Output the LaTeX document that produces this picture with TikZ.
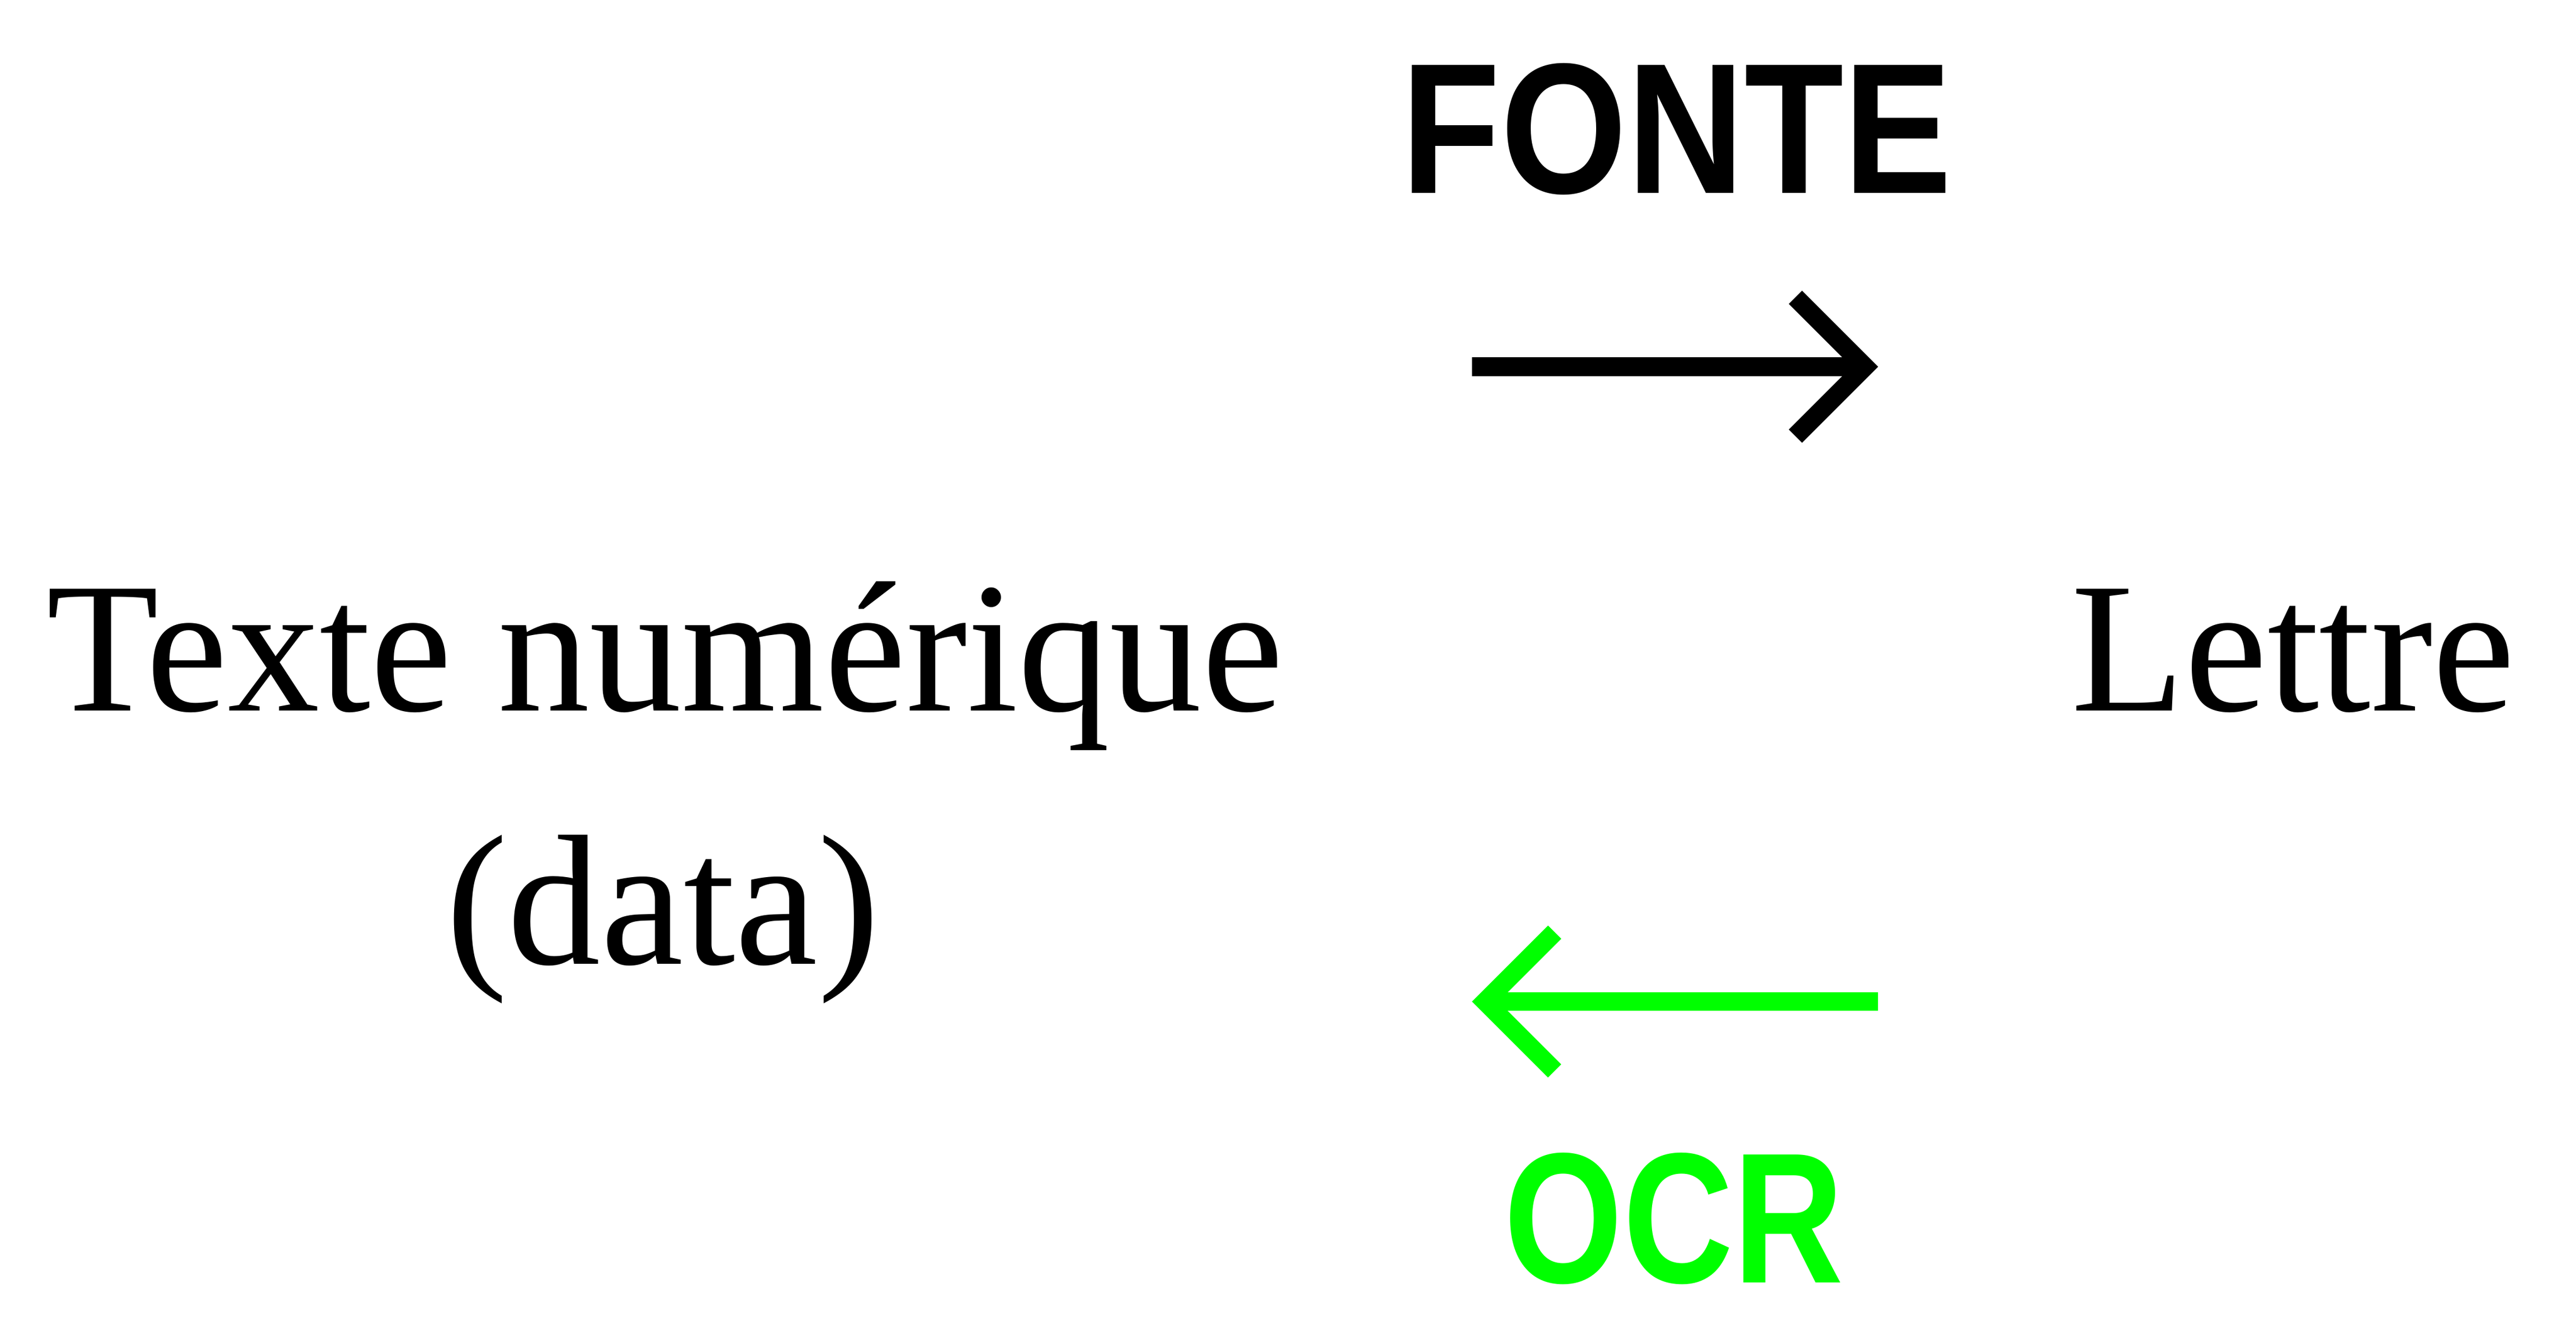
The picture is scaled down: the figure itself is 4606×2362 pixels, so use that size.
\documentclass[tikz,border=0pt]{standalone}
\usepackage{fontspec}
\setmainfont{Liberation Serif}
\newfontfamily\tagfont{Liberation Sans}
\usetikzlibrary{arrows.meta}
\definecolor{ocrgreen}{RGB}{0,255,0}

\begin{document}
\begin{tikzpicture}[x=0.01cm, y=-0.01cm,
	word/.style={inner sep=0pt, font=\fontsize{94.6pt}{113.5pt}\selectfont},
	tag/.style={inner sep=0pt, font=\fontsize{94.6pt}{113.5pt}\selectfont\tagfont\bfseries},
	way/.style={line width=9.5pt, -{Straight Barb[length=35.3pt, width=70.6pt, line cap=butt, line join=miter]}}]
\useasboundingbox (0,0) rectangle (4606,2362);
\path (83,1271) node[word, anchor=base west] (txt) {\scalebox{0.987}[1]{Texte numérique}}
		(1185,1724) node[word, anchor=base] (data) {(data)}
		(4498,1271) node[word, anchor=base east] (lettre) {Lettre}
		(2998,345) node[tag, anchor=base] (fonte) {\scalebox{0.873}[1]{FONTE}}
		(2993,2294) node[tag, anchor=base, text=ocrgreen] (ocr) {\scalebox{0.82}[1]{OCR}}
		;
\coordinate (f1) at (2632,656);
\coordinate (f2) at (3358,656);
\coordinate (o1) at (3358,1791.5);
\coordinate (o2) at (2632,1791.5);

\draw[way] (node cs:name=f1) -- (node cs:name=f2);
\draw[way, ocrgreen] (node cs:name=o1) -- (node cs:name=o2);
\end{tikzpicture}
\end{document}
